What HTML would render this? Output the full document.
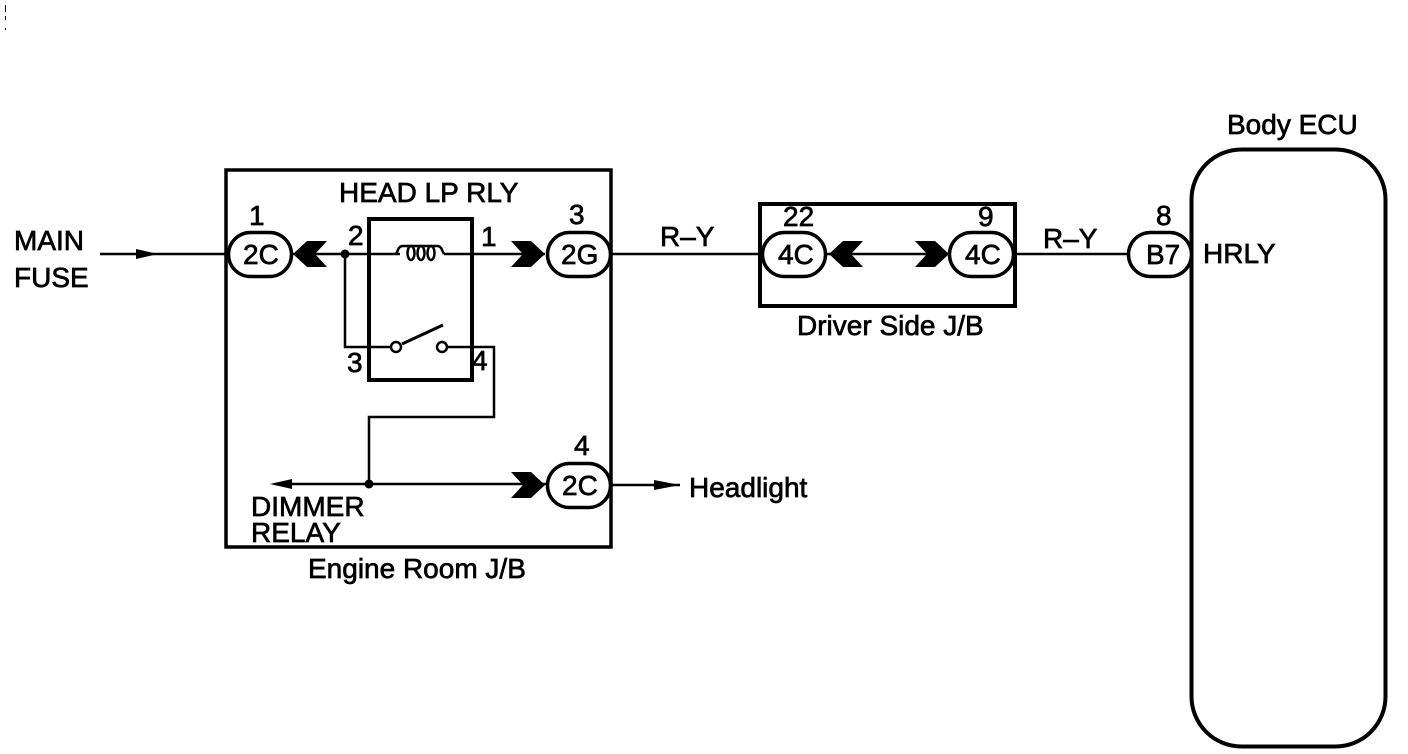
<!DOCTYPE html>
<html>
<head>
<meta charset="utf-8">
<style>
html,body{margin:0;padding:0;background:#fff;width:1408px;height:754px;overflow:hidden}
svg{display:block}
text{font-family:"Liberation Sans",sans-serif;font-size:28px;fill:#000;stroke:#000;stroke-width:.7}
</style>
</head>
<body>
<svg width="1408" height="754" viewBox="0 0 1408 754" xmlns="http://www.w3.org/2000/svg">
<g fill="none" stroke="#000">
  <!-- corner specks -->
  <path d="M5.500 5v7M5.500 16v4M5.500 28v2" stroke-width="1"/>
  <!-- boxes -->
  <rect x="226" y="170" width="385" height="377" stroke-width="3.500"/>
  <rect x="369" y="219" width="103" height="161" stroke-width="4"/>
  <rect x="760" y="204" width="255" height="102" stroke-width="4"/>
  <rect x="1191.500" y="149.500" width="194" height="597" rx="50" ry="50" stroke-width="4"/>

  <!-- wires -->
  <g stroke-width="2.500">
    <path d="M100 254H228"/>
    <path d="M292 254H400"/>
    <path d="M444 254H545"/>
    <path d="M611 254H762"/>
    <path d="M825 254H949"/>
    <path d="M1014 254H1128"/>
    <path d="M345 254V347H391"/>
    <path d="M448 347H494V417H369V484"/>
    <path d="M275 484H547"/>
    <path d="M611 485H680"/>
    <!-- coil -->
    <path d="M396 254c2-3 2-7 6-8h36c4 1 4 5 6 8"/>
    <ellipse cx="411" cy="253" rx="3.500" ry="7"/>
    <ellipse cx="421" cy="253" rx="3.500" ry="7"/>
    <ellipse cx="431" cy="253" rx="3.500" ry="7"/>
    <!-- switch -->
    <path d="M402 344L443 325" stroke-width="3"/>
    <circle cx="396" cy="347" r="5"/>
    <circle cx="442" cy="347" r="5"/>
  </g>

  <!-- connector pills -->
  <g stroke-width="3.500" fill="#fff">
    <rect x="228.500" y="232.500" width="63" height="44" rx="22"/>
    <rect x="547.500" y="232.500" width="63" height="44" rx="22"/>
    <rect x="547.500" y="463.500" width="63" height="44" rx="22"/>
    <rect x="762.500" y="232.500" width="63" height="44" rx="22"/>
    <rect x="949.500" y="232.500" width="64" height="44" rx="22"/>
    <rect x="1128.500" y="232.500" width="63" height="44" rx="22"/>
  </g>
</g>

<g fill="#000" stroke="none">
  <!-- chevron arrowheads -->
  <polygon points="293,254 307,241 327,241 315,254 327,267 307,267"/>
  <polygon points="545,254 531,241 511,241 523,254 511,267 531,267"/>
  <polygon points="545,485 531,472 511,472 523,485 511,498 531,498"/>
  <polygon points="829,254 843,241 863,241 851,254 863,267 843,267"/>
  <polygon points="949,254 935,241 915,241 927,254 915,267 935,267"/>
  <!-- small arrowheads -->
  <polygon points="158,254 136,249 136,259"/>
  <polygon points="270,484 292,479 292,489"/>
  <polygon points="680,485 654,480 654,490"/>
  <!-- junction dots -->
  <circle cx="345" cy="254" r="4.500"/>
  <circle cx="369" cy="484" r="4.500"/>
</g>

<!-- labels -->
<text x="14" y="250">MAIN</text>
<text x="14" y="287">FUSE</text>
<text x="339" y="202">HEAD LP RLY</text>
<text x="249" y="225">1</text>
<text x="348" y="245">2</text>
<text x="481" y="246">1</text>
<text x="347" y="372">3</text>
<text x="472" y="370">4</text>
<text x="569" y="224">3</text>
<text x="574" y="455">4</text>
<text x="243" y="264">2C</text>
<text x="561" y="264">2G</text>
<text x="562" y="495">2C</text>
<text x="660" y="246">R–Y</text>
<text x="1043" y="248">R–Y</text>
<text x="689" y="497">Headlight</text>
<text x="251" y="516">DIMMER</text>
<text x="251" y="542">RELAY</text>
<text x="308" y="578">Engine Room J/B</text>
<text x="783" y="226">22</text>
<text x="978" y="226">9</text>
<text x="778" y="264">4C</text>
<text x="965" y="264">4C</text>
<text x="797" y="335">Driver Side J/B</text>
<text x="1156" y="225">8</text>
<text x="1146" y="264">B7</text>
<text x="1203" y="263">HRLY</text>
<text x="1227" y="134">Body ECU</text>
</svg>
</body>
</html>
